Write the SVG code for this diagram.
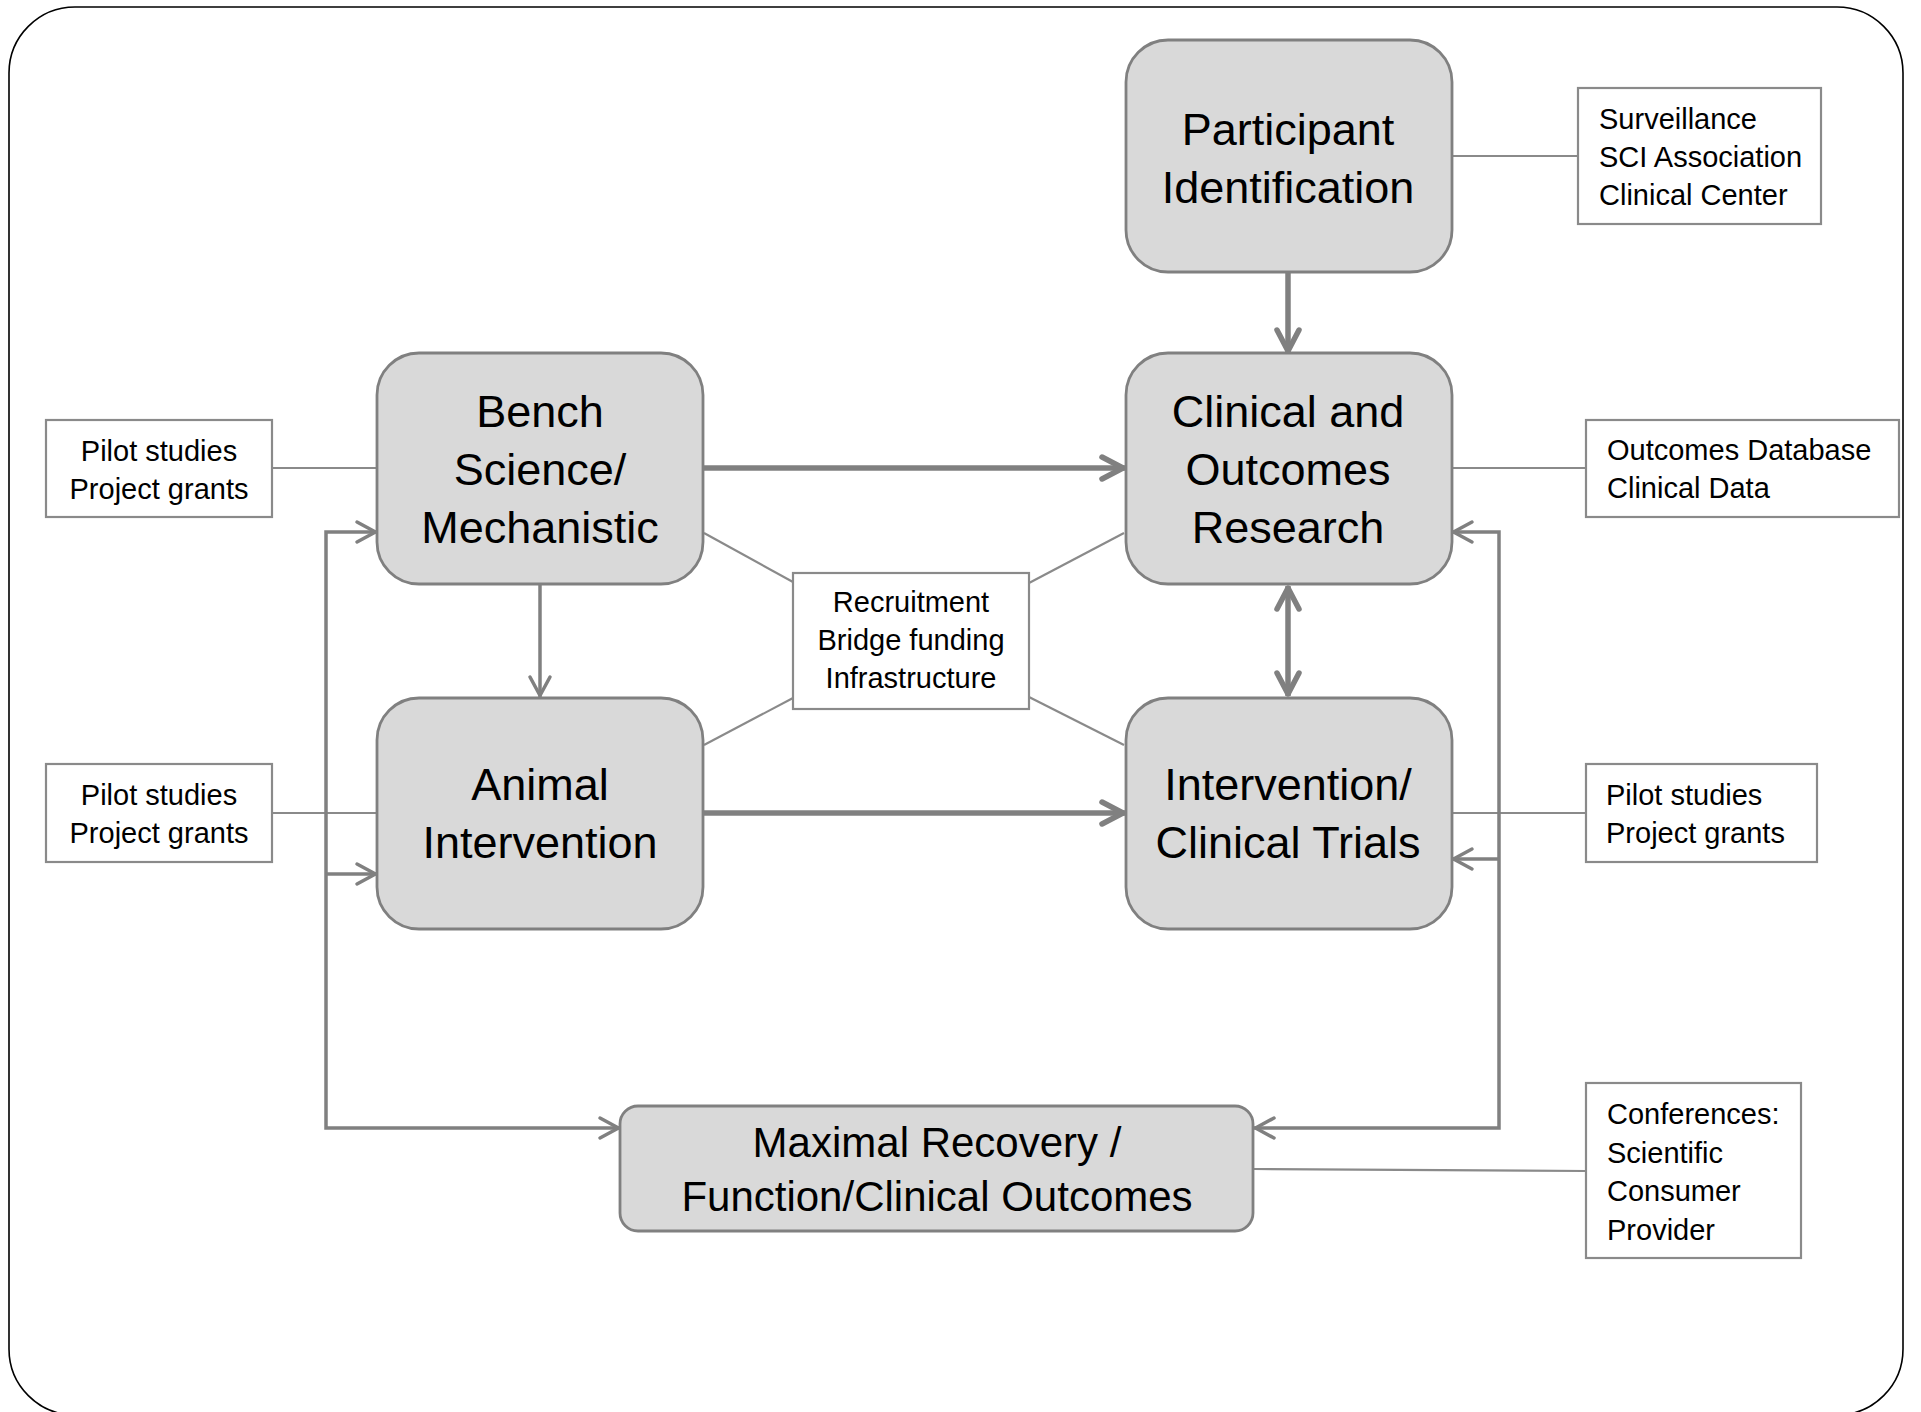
<svg xmlns="http://www.w3.org/2000/svg" width="1921" height="1412" viewBox="0 0 1921 1412">
  <style>
    .node { fill: #d9d9d9; stroke: #808080; stroke-width: 2.8; }
    .note { fill: #ffffff; stroke: #8a8a8a; stroke-width: 2.2; }
    .big { font-family: "Liberation Sans", Arial, sans-serif; font-size: 45px; fill: #000; text-anchor: middle; }
    .mid { font-family: "Liberation Sans", Arial, sans-serif; font-size: 42px; fill: #000; text-anchor: middle; }
    .small { font-family: "Liberation Sans", Arial, sans-serif; font-size: 29px; fill: #000; }
    .c { text-anchor: middle; }
    .thin { fill: none; stroke: #8a8a8a; stroke-width: 2.2; }
    .thick { fill: none; stroke: #808080; stroke-width: 5.5; }
    .med { fill: none; stroke: #808080; stroke-width: 3.5; }
  </style>
  <defs>
    <marker id="ahThick" markerUnits="userSpaceOnUse" markerWidth="60" markerHeight="60" viewBox="-30 -30 60 60" refX="0" refY="0" orient="auto-start-reverse" overflow="visible">
      <path d="M-23,-11 L-2,0 L-23,11" fill="none" stroke="#808080" stroke-width="5.5" stroke-linecap="round" stroke-linejoin="round"/>
    </marker>
    <marker id="ahThin" markerUnits="userSpaceOnUse" markerWidth="60" markerHeight="60" viewBox="-30 -30 60 60" refX="0" refY="0" orient="auto-start-reverse" overflow="visible">
      <path d="M-20,-10 L-1.5,0 L-20,10" fill="none" stroke="#808080" stroke-width="3.5" stroke-linecap="round" stroke-linejoin="round"/>
    </marker>
  </defs>

  <rect x="9" y="7" width="1894" height="1408" rx="66" ry="66" fill="#ffffff" stroke="#000000" stroke-width="1.6"/>

  <g id="connectors">
    <!-- annotation lines -->
    <line class="thin" x1="1452" y1="156" x2="1578" y2="156"/>
    <line class="thin" x1="1452" y1="468" x2="1586" y2="468"/>
    <line class="thin" x1="272" y1="468" x2="377" y2="468"/>
    <line class="thin" x1="272" y1="813" x2="377" y2="813"/>
    <line class="thin" x1="1452" y1="813" x2="1586" y2="813"/>
    <line class="thin" x1="1254" y1="1169" x2="1586" y2="1171"/>
    <line class="thin" x1="704" y1="533" x2="793" y2="582"/>
    <line class="thin" x1="704" y1="745" x2="793" y2="698"/>
    <line class="thin" x1="1124" y1="533" x2="1029" y2="583"/>
    <line class="thin" x1="1124" y1="745" x2="1029" y2="697"/>

    <!-- main thick arrows -->
    <line class="thick" x1="1288" y1="272" x2="1288" y2="353" marker-end="url(#ahThick)"/>
    <line class="thick" x1="704" y1="468" x2="1125" y2="468" marker-end="url(#ahThick)"/>
    <line class="thick" x1="704" y1="813" x2="1125" y2="813" marker-end="url(#ahThick)"/>
    <line class="thick" x1="1288" y1="586" x2="1288" y2="696" marker-start="url(#ahThick)" marker-end="url(#ahThick)"/>

    <!-- bench to animal -->
    <line class="med" x1="540" y1="585" x2="540" y2="697" marker-end="url(#ahThin)"/>

    <!-- left feedback -->
    <polyline class="med" points="377,532 326,532 326,1128 620,1128" marker-start="url(#ahThin)" marker-end="url(#ahThin)"/>
    <line class="med" x1="326" y1="874" x2="377" y2="874" marker-end="url(#ahThin)"/>

    <!-- right feedback -->
    <polyline class="med" points="1452,532 1499,532 1499,1128 1254,1128" marker-start="url(#ahThin)" marker-end="url(#ahThin)"/>
    <line class="med" x1="1499" y1="859" x2="1452" y2="859" marker-end="url(#ahThin)"/>
  </g>

  <g id="participant">
    <rect class="node" x="1126" y="40" width="326" height="232" rx="42" ry="42"/>
    <text class="big"><tspan x="1288" y="145">Participant</tspan><tspan x="1288" y="203">Identification</tspan></text>
  </g>
  <g id="bench">
    <rect class="node" x="377" y="353" width="326" height="231" rx="42" ry="42"/>
    <text class="big"><tspan x="540" y="427">Bench</tspan><tspan x="540" y="485">Science/</tspan><tspan x="540" y="543">Mechanistic</tspan></text>
  </g>
  <g id="clinical">
    <rect class="node" x="1126" y="353" width="326" height="231" rx="42" ry="42"/>
    <text class="big"><tspan x="1288" y="427">Clinical and</tspan><tspan x="1288" y="485">Outcomes</tspan><tspan x="1288" y="543">Research</tspan></text>
  </g>
  <g id="animal">
    <rect class="node" x="377" y="698" width="326" height="231" rx="42" ry="42"/>
    <text class="big"><tspan x="540" y="800">Animal</tspan><tspan x="540" y="858">Intervention</tspan></text>
  </g>
  <g id="trials">
    <rect class="node" x="1126" y="698" width="326" height="231" rx="42" ry="42"/>
    <text class="big"><tspan x="1288" y="800">Intervention/</tspan><tspan x="1288" y="858">Clinical Trials</tspan></text>
  </g>
  <g id="maximal">
    <rect class="node" x="620" y="1106" width="633" height="125" rx="18" ry="18"/>
    <text class="mid"><tspan x="937" y="1157">Maximal Recovery /</tspan><tspan x="937" y="1211">Function/Clinical Outcomes</tspan></text>
  </g>

  <g id="note-surveillance">
    <rect class="note" x="1578" y="88" width="243" height="136"/>
    <text class="small"><tspan x="1599" y="129">Surveillance</tspan><tspan x="1599" y="167">SCI Association</tspan><tspan x="1599" y="205">Clinical Center</tspan></text>
  </g>
  <g id="note-outcomes">
    <rect class="note" x="1586" y="420" width="313" height="97"/>
    <text class="small"><tspan x="1607" y="460">Outcomes Database</tspan><tspan x="1607" y="498">Clinical Data</tspan></text>
  </g>
  <g id="note-pilot-left-top">
    <rect class="note" x="46" y="420" width="226" height="97"/>
    <text class="small c"><tspan x="159" y="461">Pilot studies</tspan><tspan x="159" y="499">Project grants</tspan></text>
  </g>
  <g id="note-pilot-left-bottom">
    <rect class="note" x="46" y="764" width="226" height="98"/>
    <text class="small c"><tspan x="159" y="805">Pilot studies</tspan><tspan x="159" y="843">Project grants</tspan></text>
  </g>
  <g id="note-pilot-right">
    <rect class="note" x="1586" y="764" width="231" height="98"/>
    <text class="small"><tspan x="1606" y="805">Pilot studies</tspan><tspan x="1606" y="843">Project grants</tspan></text>
  </g>
  <g id="note-recruitment">
    <rect class="note" x="793" y="573" width="236" height="136"/>
    <text class="small c"><tspan x="911" y="612">Recruitment</tspan><tspan x="911" y="650">Bridge funding</tspan><tspan x="911" y="688">Infrastructure</tspan></text>
  </g>
  <g id="note-conferences">
    <rect class="note" x="1586" y="1083" width="215" height="175"/>
    <text class="small"><tspan x="1607" y="1124">Conferences:</tspan><tspan x="1607" y="1163">Scientific</tspan><tspan x="1607" y="1201">Consumer</tspan><tspan x="1607" y="1240">Provider</tspan></text>
  </g>
</svg>
